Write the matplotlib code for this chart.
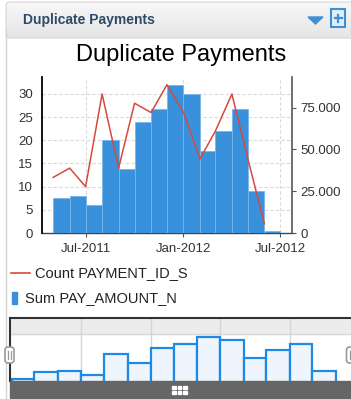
import matplotlib
matplotlib.use("Agg")
import matplotlib.pyplot as plt
import matplotlib.dates as mdates
from matplotlib.patches import Rectangle, FancyBboxPatch
from matplotlib.ticker import FuncFormatter
import numpy as np
import datetime as dt

plt.rcParams['font.family'] = ['Liberation Sans', 'DejaVu Sans']

# monthly data
months = ["2011-05", "2011-06", "2011-07", "2011-08", "2011-09", "2011-10", "2011-11",
          "2011-12", "2012-01", "2012-02", "2012-03", "2012-04", "2012-05", "2012-06"]
pay_amount = [20900, 22100, 16500, 55500, 38200, 66600, 74000,
              88700, 83100, 49300, 61000, 74400, 25100, 1200]
payment_count = [12, 14, 10, 30, 14, 28, 26, 32, 26, 16, 22, 30, 16, 2]

# overview strip under the chart
nav_months = ["2011-04", "2011-05", "2011-06", "2011-07", "2011-08", "2011-09", "2011-10",
              "2011-11", "2011-12", "2012-01", "2012-02", "2012-03", "2012-04", "2012-05"]
nav_amount = [9600, 22100, 24000, 16500, 56300, 40100, 66900,
              75000, 88700, 83100, 48200, 63200, 74400, 25200]

count_ticks = [0, 5, 10, 15, 20, 25, 30]
amount_ticks = [0, 25000, 50000, 75000]

W, H = 351, 399
fig = plt.figure(figsize=(W / 100, H / 100), dpi=100)
fig.patch.set_facecolor('white')


def box(x0, y0, x1, y1):
    # pixel box (top-left origin) -> figure fraction rect
    return [x0 / W, 1 - y1 / H, (x1 - x0) / W, (y1 - y0) / H]


def to_dates(lst):
    return [dt.datetime.strptime(m, "%Y-%m") for m in lst]


def month_widths(ds):
    out = []
    for d in ds:
        nxt = dt.datetime(d.year + (d.month == 12), d.month % 12 + 1, 1)
        out.append((nxt - d).days)
    return out


bar_blue = '#3991db'
line_red = '#d6493f'
txt = '#333333'

# ---- main chart ----
AMT_MAX = 93330
CNT_MAX = 33.66
d = to_dates(months)
x = mdates.date2num(d)

ax = fig.add_axes(box(42, 77, 292, 233))
ax2 = ax.twinx()

ax.bar(x, pay_amount, width=month_widths(d), align='edge', color=bar_blue,
       edgecolor='#79b6ea', linewidth=0.6, zorder=1)
ax.set_ylim(0, AMT_MAX)
ax.set_xlim(mdates.date2num(dt.datetime(2011, 4, 10)), mdates.date2num(dt.datetime(2012, 7, 23)))
for c in count_ticks[1:]:
    ax.axhline(c * AMT_MAX / CNT_MAX, color='#d9d9d9', lw=0.8, ls=(0, (3, 2)), zorder=0.3)
ax.set_axisbelow(True)
ax.xaxis.set_major_locator(mdates.MonthLocator(bymonth=[1, 7]))
ax.xaxis.set_major_formatter(mdates.DateFormatter('%b-%Y'))
ax.grid(axis='x', color='#d9d9d9', lw=0.8, ls=(0, (3, 2)))
ax.yaxis.tick_right()
ax.set_yticks(amount_ticks)
ax.yaxis.set_major_formatter(FuncFormatter(lambda v, p: f"{v:,.0f}".replace(',', '.')))
ax.tick_params(axis='y', length=3, width=0.8, color='#555555', pad=3, labelsize=9.5, labelcolor=txt)
ax.tick_params(axis='x', length=3, width=0.8, color='#555555', pad=4, labelsize=9.5, labelcolor=txt)
for s in ['left', 'top']:
    ax.spines[s].set_visible(False)
ax.spines['right'].set_color('#555555')
ax.spines['right'].set_linewidth(1.2)
ax.spines['bottom'].set_color('#444444')
ax.spines['bottom'].set_linewidth(1.0)
ax.spines['bottom'].set_zorder(0.5)

ax2.plot(x, payment_count, color=line_red, lw=1.1)
ax2.set_ylim(0, CNT_MAX)
ax2.yaxis.tick_left()
ax2.set_yticks(count_ticks)
ax2.tick_params(axis='y', length=0, pad=6.5, labelsize=9.5, labelcolor=txt)
for s in ['right', 'top', 'bottom']:
    ax2.spines[s].set_visible(False)
ax2.spines['left'].set_color('black')
ax2.spines['left'].set_linewidth(1.3)

fig.text(181 / W, 1 - 55 / H, 'Duplicate Payments', ha='center', va='center',
         fontsize=17, color='black')

# ---- overview navigator ----
nd = to_dates(nav_months)
nx = mdates.date2num(nd)
NAV_LO, NAV_TOP, NAV_HI = 5900, 93600, 123500
nav = fig.add_axes(box(10, 318, 358, 381))
nav.axhspan(NAV_TOP, NAV_HI, color='#ececec', zorder=0)
nav.axhline(NAV_TOP, color='#d8d8d8', lw=1, zorder=0.2)
for q in ["2011-07", "2011-10", "2012-01", "2012-04"]:
    nav.axvline(mdates.date2num(dt.datetime.strptime(q, "%Y-%m")), color='#d6d6d6', lw=1, zorder=0.2)
nav.bar(nx, nav_amount, width=month_widths(nd), align='edge', bottom=0,
        color='#eef5fc', edgecolor='#1f8ae6', linewidth=1.6, zorder=1)
nav.set_ylim(NAV_LO, NAV_HI)
nav.set_xlim(mdates.date2num(dt.datetime(2011, 3, 30)), mdates.date2num(dt.datetime(2012, 6, 30)))
nav.set_xticks([])
nav.set_yticks([])
for s in ['right', 'bottom']:
    nav.spines[s].set_visible(False)
nav.spines['left'].set_color('#333333')
nav.spines['left'].set_linewidth(1.5)
nav.spines['top'].set_color('#333333')
nav.spines['top'].set_linewidth(1.5)

# ---- panel chrome, legend, handles ----
ui = fig.add_axes([0, 0, 1, 1], zorder=10)
ui.axis('off')
ui.patch.set_alpha(0)

# panel border
ui.plot([5.5, 5.5], [30, H], color='#d4d4d4', lw=1)

# header with gradient
hdr = FancyBboxPatch((6, 2), W + 10, 36, boxstyle='round,pad=0,rounding_size=4',
                     facecolor='none', edgecolor='#d6d6d6', lw=0.8)
ui.add_patch(hdr)
grad = np.linspace(0, 1, 64).reshape(-1, 1)
im = ui.imshow(grad, extent=(6, W + 16, 38, 2), cmap=matplotlib.colors.LinearSegmentedColormap.from_list(
    'hdr', ['#f8f8f8', '#e5e5e5']), aspect='auto', zorder=0.5)
im.set_clip_path(hdr)
ui.set_xlim(0, W)
ui.set_ylim(H, 0)
ui.text(23, 20, 'Duplicate Payments', fontsize=10, fontweight='bold', color='#2d4a69',
        va='center', ha='left')
# dropdown triangle and maximize box
ui.add_patch(plt.Polygon([[308, 17], [323, 17], [315.5, 24]], color='#3d8fd6'))
ui.add_patch(Rectangle((331, 9), 14, 18, facecolor='#e3eefa', edgecolor='#3d8fd6', lw=1.5))
ui.plot([334.5, 341.5], [18, 18], color='#3d8fd6', lw=1.6)
ui.plot([338, 338], [14.5, 21.5], color='#3d8fd6', lw=1.6)

# legend
ui.plot([11, 30], [273, 273], color=line_red, lw=1.2)
ui.text(35, 273, 'Count PAYMENT_ID_S', fontsize=10.5, color='#222222', va='center', ha='left')
ui.add_patch(Rectangle((12, 292), 4.5, 12, color=bar_blue))
ui.text(25, 298, 'Sum PAY_AMOUNT_N', fontsize=10.5, color='#222222', va='center', ha='left')

# navigator footer with grip
ui.add_patch(Rectangle((10, 381), W, 17, color='#666666', zorder=2))
for gx in (174, 179.5, 185):
    for gy in (385.5, 390.5):
        ui.add_patch(Rectangle((gx - 1.6, gy), 3.2, 3.2, color='white', zorder=3))

# range handles
for hx in (9.5, 351):
    ui.add_patch(FancyBboxPatch((hx - 4.5, 347), 9, 16, boxstyle='round,pad=0,rounding_size=3',
                                facecolor='white', edgecolor='#9a9a9a', lw=1.2, zorder=4))
    ui.plot([hx - 1.3, hx - 1.3], [351, 359], color='#9a9a9a', lw=0.9, zorder=5)
    ui.plot([hx + 1.3, hx + 1.3], [351, 359], color='#9a9a9a', lw=0.9, zorder=5)

fig.savefig('out.png', dpi=100)
